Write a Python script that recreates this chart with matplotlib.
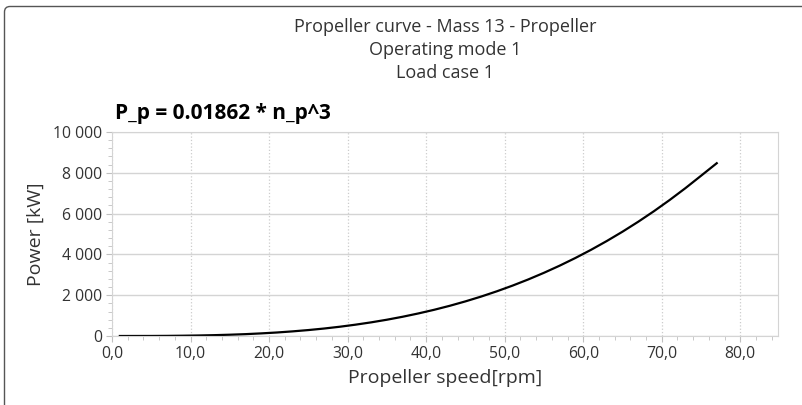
import matplotlib.pyplot as plt
from matplotlib.patches import PathPatch
from matplotlib.path import Path
from matplotlib.ticker import MultipleLocator, FuncFormatter

# propeller speed [rpm] and power [kW]
speed = [1, 3, 5, 7, 9, 11, 13, 15, 17, 19, 21, 23, 25, 27, 29, 31, 33, 35, 37, 39,
         41, 43, 45, 47, 49, 51, 53, 55, 57, 59, 61, 63, 65, 67, 69, 71, 73, 75, 77]
power = [0, 1, 2, 6, 14, 25, 41, 63, 91, 128, 172, 227, 291, 366, 454, 555, 669, 798, 943, 1105,
         1283, 1480, 1697, 1933, 2191, 2470, 2772, 3098, 3448, 3824, 4226, 4656, 5113, 5600, 6117,
         6665, 7244, 7855, 8470]

titles = ["Propeller curve - Mass 13 - Propeller", "Operating mode 1", "Load case 1"]
formula = "P_p = 0.01862 * n_p^3"

plt.rcParams['font.family'] = ['Open Sans', 'DejaVu Sans']

fig = plt.figure(figsize=(8.03, 4.05), dpi=100)
ax = fig.add_axes([112 / 803, 69 / 405, 666 / 803, 204 / 405])

# outer frame: left and top edges with a rounded corner (inches)
verts = [(0.045, -0.2), (0.045, 3.93), (0.045, 3.985), (0.10, 3.985), (8.5, 3.985)]
codes = [Path.MOVETO, Path.LINETO, Path.CURVE3, Path.CURVE3, Path.LINETO]
fig.patches.append(PathPatch(Path(verts, codes), transform=fig.dpi_scale_trans,
                             fill=False, edgecolor='#555555', lw=1.0))

ax.plot(speed, power, color='black', lw=1.6)

ax.set_xlim(0, 84.8)
ax.set_ylim(0, 10000)
ax.xaxis.set_major_locator(MultipleLocator(10))
ax.xaxis.set_minor_locator(MultipleLocator(2))
ax.yaxis.set_major_locator(MultipleLocator(2000))
ax.yaxis.set_minor_locator(MultipleLocator(400))
ax.xaxis.set_major_formatter(FuncFormatter(lambda v, p: f"{v:.1f}".replace('.', ',')))
ax.yaxis.set_major_formatter(FuncFormatter(lambda v, p: f"{int(v):,}".replace(',', ' ')))

ax.grid(axis='y', color='#d4d4d4', lw=1.0, ls='-')
ax.grid(axis='x', color='#cccccc', lw=0.9, ls=':')
for s in ax.spines.values():
    s.set_color('#d4d4d4')
ax.tick_params(which='major', length=4, color='#c0c0c0', labelsize=11.3, labelcolor='#333333', pad=3)
ax.tick_params(which='minor', length=3, color='#c0c0c0')

ax.set_xlabel("Propeller speed[rpm]", fontsize=14, color='#333333', labelpad=5)
ax.set_ylabel("Power [kW]", fontsize=14, color='#333333', labelpad=6)

for i, t in enumerate(titles):
    fig.text(445 / 803, 1 - (27 + 23 * i) / 405, t, ha='center', va='center',
             fontsize=13, color='#333333')
fig.text(115 / 803, 1 - 113 / 405, formula, ha='left', va='center',
         fontsize=15, fontweight='bold', color='black')

fig.savefig('out.png', dpi=100)
